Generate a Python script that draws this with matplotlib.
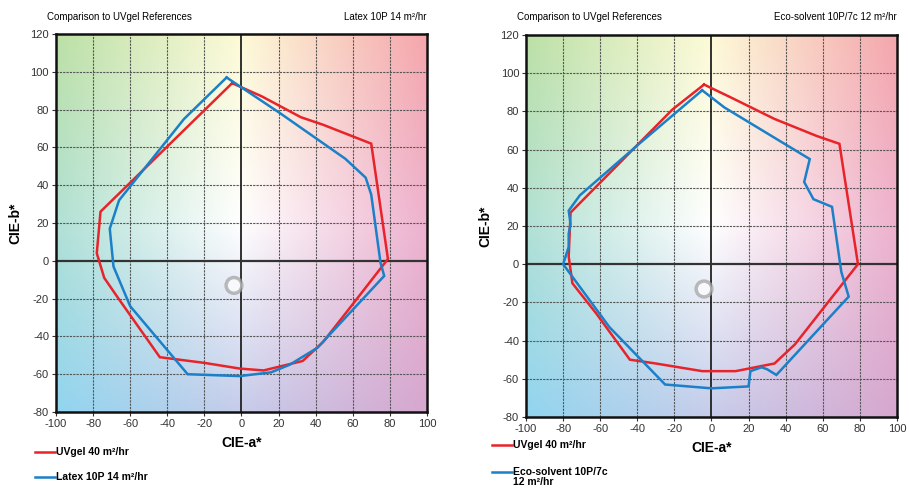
import numpy as np
import matplotlib
matplotlib.use("Agg")
import matplotlib.pyplot as plt
from matplotlib.patches import Ellipse
from matplotlib.lines import Line2D

plt.rcParams.update({"font.family": ["Liberation Sans", "DejaVu Sans"],
                     "axes.unicode_minus": False})

# ---- data (CIE a*, b*)
uv_left_a = [-5, 11, 32, 44, 70, 79, 60, 44, 33, 12, -1, -20, -44, -67, -74, -78, -76, -5]
uv_left_b = [94, 87, 76, 72, 62, 1, -23, -43, -53, -58, -57, -54, -51, -19, -9, 4, 26, 94]
latex_a = [-8, 21, 56, 67, 70, 75, 77, 41, 26, 16, -1, -29, -60, -69, -71, -66, -31, -8]
latex_b = [97, 78, 54, 44, 35, -1, -8, -46, -55, -59, -61, -60, -24, -3, 17, 32, 75, 97]

uv_right_a = [-4, 11, 34, 57, 69, 79, 45, 34, 13, -5, -30, -44, -62, -75, -77, -76, -21, -4]
uv_right_b = [94, 87, 76, 67, 63, 0, -42, -52, -56, -56, -52, -50, -26, -10, 4, 27, 81, 94]
eco_a = [-5, 7, 53, 50, 55, 65, 70, 74, 35, 30, 27, 21, 20, 0, -25, -55, -80, -77, -77, -76, -77, -71, -39, -5]
eco_b = [91, 82, 55, 43, 34, 30, -4, -17, -58, -55, -54, -56, -64, -65, -63, -33, 0, 9, 16, 21, 28, 36, 63, 91]

panels = [
    dict(pos=[0.0616, 0.1557, 0.408, 0.7746], ylim=(-80, 120), ref=(uv_left_a, uv_left_b),
         cmp=(latex_a, latex_b), name="Latex 10P 14 m²/hr", ring=(-4, -13)),
    dict(pos=[0.5787, 0.1455, 0.408, 0.783], ylim=(-80, 120), ref=(uv_right_a, uv_right_b),
         cmp=(eco_a, eco_b), name="Eco-solvent 10P/7c 12 m²/hr", ring=(-4, -13)),
]

# background colour field (3x3 control colours, bilinear)
bg = np.array([
    [[188, 224, 165], [253, 250, 214], [245, 166, 172]],
    [[176, 224, 212], [255, 255, 255], [238, 178, 206]],
    [[145, 213, 240], [198, 204, 234], [215, 167, 207]],
]) / 255.0

RED = "#e8232a"
BLUE = "#1b80c8"

fig = plt.figure(figsize=(9.09, 4.88), dpi=100)
for p in panels:
    ax = fig.add_axes(p["pos"])
    ax.imshow(bg, extent=(-150, 150, -130, 170), interpolation="bilinear",
              aspect="auto", zorder=0)
    ax.set_xlim(-100, 100)
    ax.set_ylim(*p["ylim"])
    ticks_x = np.arange(-100, 101, 20)
    ticks_y = np.arange(p["ylim"][0], p["ylim"][1] + 1, 20)
    ax.set_xticks(ticks_x)
    ax.set_yticks(ticks_y)
    ax.tick_params(labelsize=8, length=3, width=0.8, colors="#333333", pad=2)
    for t in ticks_x[1:-1]:
        if t != 0:
            ax.axvline(t, color="#555555", lw=0.8, ls=(0, (2, 1)), zorder=1)
    for t in ticks_y[1:-1]:
        if t != 0:
            ax.axhline(t, color="#555555", lw=0.8, ls=(0, (2, 1)), zorder=1)
    ax.axvline(0, color="#222222", lw=1.3, zorder=1)
    ax.axhline(0, color="#333333", lw=1.6, zorder=1)
    for s in ax.spines.values():
        s.set_linewidth(1.8)
        s.set_color("#111111")
    ring = Ellipse(p["ring"], 8.5, 8.5 * (p["pos"][2] * 909) / (p["pos"][3] * 488),
                   facecolor="white", edgecolor="#a0a0a0", lw=2.5, alpha=0.7, zorder=2)
    ax.add_patch(ring)
    ax.plot(*p["ref"], color=RED, lw=1.8, zorder=3, solid_joinstyle="miter")
    ax.plot(*p["cmp"], color=BLUE, lw=1.8, zorder=4, solid_joinstyle="miter")
    ax.set_xlabel("CIE-a*", fontsize=10, fontweight="bold", labelpad=5)
    ax.set_ylabel("CIE-b*", fontsize=10, fontweight="bold", labelpad=6)

# titles
fig.text(47 / 909, 1 - 17 / 488, "Comparison to UVgel References", fontsize=7, va="center")
fig.text(427 / 909, 1 - 17 / 488, panels[0]["name"], fontsize=7, va="center", ha="right")
fig.text(517 / 909, 1 - 17 / 488, "Comparison to UVgel References", fontsize=7, va="center")
fig.text(897 / 909, 1 - 17 / 488, panels[1]["name"], fontsize=7, va="center", ha="right")

# legends
def leg(x0, y, color, label):
    yy = 1 - y / 488
    fig.add_artist(Line2D([x0 / 909, (x0 + 20) / 909], [yy, yy], color=color, lw=1.8))
    fig.text((x0 + 21) / 909, yy, label, fontsize=7.5, fontweight="bold", va="center")

leg(35, 452, RED, "UVgel 40 m²/hr")
leg(35, 477, BLUE, "Latex 10P 14 m²/hr")
leg(492, 445, RED, "UVgel 40 m²/hr")
leg(492, 472, BLUE, "Eco-solvent 10P/7c")
fig.text(513 / 909, 1 - 482 / 488, "12 m²/hr", fontsize=7.5, fontweight="bold", va="center")

fig.savefig("out.png", dpi=100)
